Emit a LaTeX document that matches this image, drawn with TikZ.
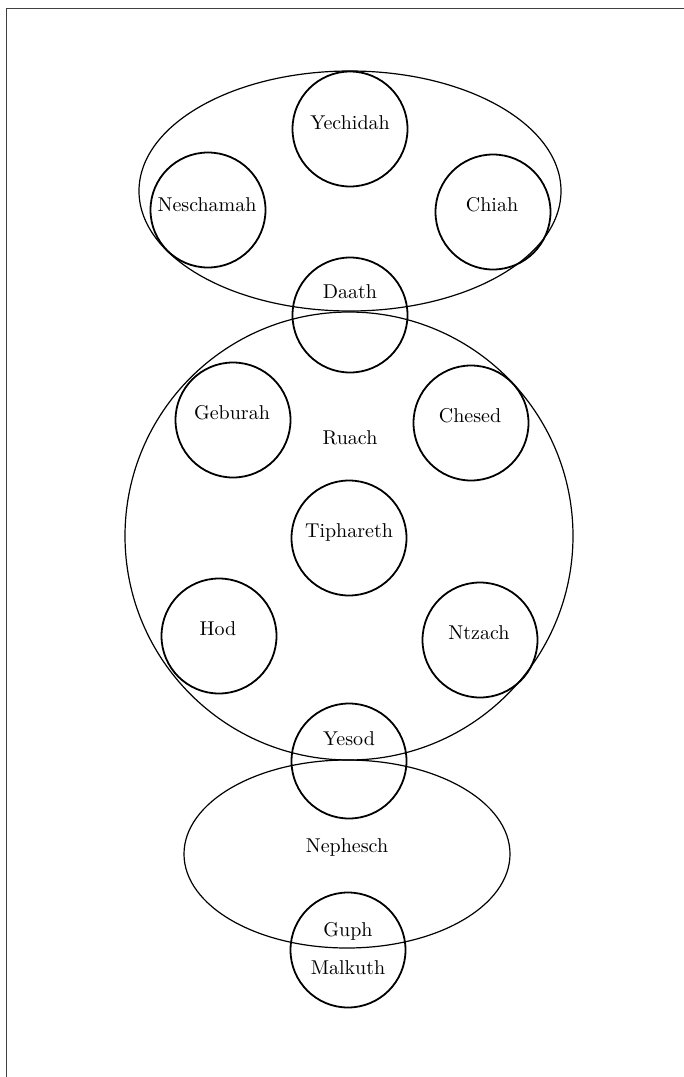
\documentclass[tikz,border=0pt]{standalone}
\usepackage{xcolor}
\usepackage{tikz}
\usetikzlibrary{shapes.geometric}

\tikzset{
    sephira/.style={circle, draw, line width=0.9pt, minimum size=57.5pt, inner sep=0pt},
    soul/.style={ellipse, draw, line width=0.6pt, inner sep=0pt},
    lbl/.style={inner sep=0pt, font=\normalsize},
}

\begin{document}
\begin{tikzpicture}[x=0.5pt, y=-0.5pt]
        \useasboundingbox (0,0) rectangle (684,1077);
        \draw[line width=0.5pt, black!75] (684,8) -- (6,8) -- (6,1077);

        % the three parts of the soul
        \node[soul, minimum width=211pt, minimum height=120pt] (supernal) at (350,191) {};
        \node[soul, circle, minimum size=224pt]                (ruach)    at (349,536) {};
        \node[soul, minimum width=163pt, minimum height=94pt]  (nephesch) at (347,854) {};

        % the sephiroth
        \node[sephira] (yechidah)  at (350,129) {};
        \node[sephira] (neschamah) at (208,210) {};
        \node[sephira] (chiah)     at (493,212) {};
        \node[sephira] (daath)     at (350,315) {};
        \node[sephira] (geburah)   at (233,420) {};
        \node[sephira] (chesed)    at (471,423) {};
        \node[sephira] (tiphareth) at (349,538) {};
        \node[sephira] (hod)       at (219,636) {};
        \node[sephira] (ntzach)    at (480,640) {};
        \node[sephira] (yesod)     at (349,761) {};
        \node[sephira] (malkuth)   at (348,950) {};

        \node[lbl] (yechidahT)  at (350,123) {Yechidah};
        \node[lbl] (neschamahT) at (207,205) {Neschamah};
        \node[lbl] (chiahT)     at (492,205) {Chiah};
        \node[lbl] (daathT)     at (350,292) {Daath};
        \node[lbl] (geburahT)   at (232,413) {Geburah};
        \node[lbl] (chesedT)    at (470,416) {Chesed};
        \node[lbl] (ruachT)     at (350,438) {Ruach};
        \node[lbl] (tipharethT) at (349,532) {Tiphareth};
        \node[lbl] (hodT)       at (218,629) {Hod};
        \node[lbl] (ntzachT)    at (479,633) {Ntzach};
        \node[lbl] (yesodT)     at (349,739) {Yesod};
        \node[lbl] (nepheschT)  at (347,847) {Nephesch};
        \node[lbl] (guphT)      at (348,931) {Guph};
        \node[lbl] (malkuthT)   at (348,968) {Malkuth};
\end{tikzpicture}
\end{document}
